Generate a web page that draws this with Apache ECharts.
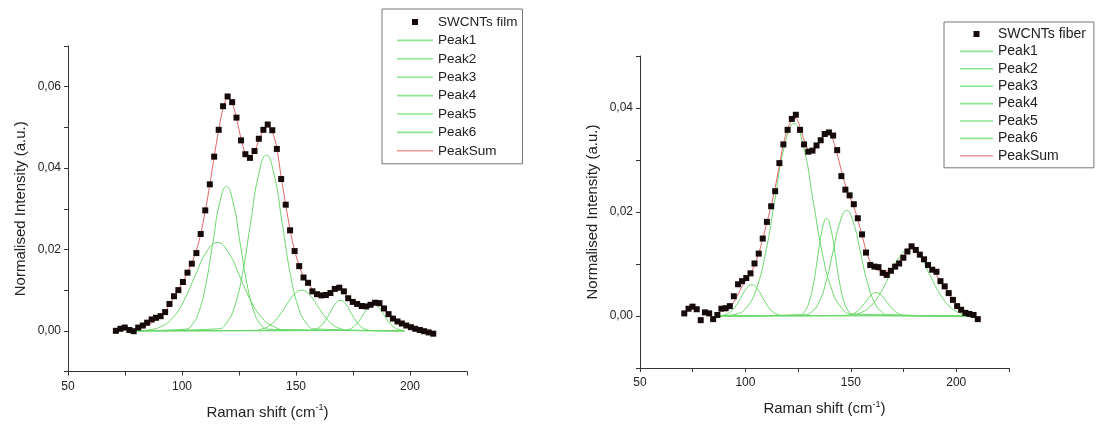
<!DOCTYPE html>
<html><head><meta charset="utf-8">
<script src="https://cdn.jsdelivr.net/npm/echarts@6/dist/echarts.min.js"></script>
<style>html,body{margin:0;padding:0;background:#fff}#c{width:1106px;height:425px}</style>
</head><body><div id="c"></div><script>
// ---- shared Raman shift grid (cm^-1) ----
const shift = [71.0, 73.0, 74.9, 76.9, 78.8, 80.8, 82.8, 84.7, 86.7, 88.6, 90.6, 92.6, 94.5, 96.5, 98.4, 100.4, 102.4, 104.3, 106.3, 108.2, 110.2, 112.2, 114.1, 116.1, 118.0, 120.0, 122.0, 123.9, 125.9, 127.8, 129.8, 131.8, 133.7, 135.7, 137.6, 139.6, 141.6, 143.5, 145.5, 147.4, 149.4, 151.4, 153.3, 155.3, 157.2, 159.2, 161.2, 163.1, 165.1, 167.0, 169.0, 171.0, 172.9, 174.9, 176.8, 178.8, 180.8, 182.7, 184.7, 186.6, 188.6, 190.6, 192.5, 194.5, 196.4, 198.4, 200.4, 202.3, 204.3, 206.2, 208.2, 210.2];

// ---- SWCNTs film ----
const filmData = [0.0000, 0.0005, 0.0008, 0.0002, -0.0001, 0.0008, 0.0013, 0.0020, 0.0028, 0.0032,
 0.0036, 0.0046, 0.0066, 0.0085, 0.0100, 0.0120, 0.0143, 0.0165, 0.0191, 0.0238,
 0.0296, 0.0360, 0.0428, 0.0494, 0.0552, 0.0576, 0.0562, 0.0524, 0.0468, 0.0434,
 0.0425, 0.0442, 0.0472, 0.0494, 0.0507, 0.0493, 0.0447, 0.0373, 0.0310, 0.0247,
 0.0196, 0.0159, 0.0131, 0.0118, 0.0097, 0.0090, 0.0087, 0.0088, 0.0093, 0.0103,
 0.0106, 0.0097, 0.0080, 0.0071, 0.0066, 0.0061, 0.0060, 0.0064, 0.0069, 0.0068,
 0.0055, 0.0041, 0.0030, 0.0023, 0.0018, 0.0013, 0.0009, 0.0005, 0.0002, -0.0001,
 -0.0004, -0.0007];
const filmSum = [null, null, null, null, null, 0.0004, 0.0008, 0.0013, 0.0019, 0.0027,
 0.0036, 0.0048, 0.0064, 0.0082, 0.0101, 0.0121, 0.0143, 0.0167, 0.0197, 0.0238,
 0.0294, 0.0360, 0.0428, 0.0494, 0.0547, 0.0572, 0.0560, 0.0522, 0.0472, 0.0436,
 0.0426, 0.0440, 0.0468, 0.0492, 0.0502, 0.0490, 0.0448, 0.0378, 0.0310, 0.0248,
 0.0197, 0.0160, 0.0133, 0.0116, 0.0102, 0.0092, 0.0088, 0.0089, 0.0094, 0.0101,
 0.0103, 0.0096, 0.0083, 0.0072, 0.0066, 0.0062, 0.0062, 0.0065, 0.0067, 0.0064,
 0.0054, 0.0041, 0.0029, 0.0019, 0.0012, null, null, null, null, null,
 null, null];
const filmPeak1 = [[80,0],[85.5,0.00024],[90.5,0.00095],[95.5,0.00294],[100.5,0.00705],[105.5,0.01316],[110.5,0.01915],[115.5,0.0217],[120.5,0.01915],[125.5,0.01316],[130.5,0.00705],[135.5,0.00294],[140.5,0.00095],[145.5,0.00024],[197.5,0]];
const filmPeak2 = [[80,0],[101.5,0.00039],[104.5,0.00156],[107.5,0.0048],[110.5,0.01153],[113.5,0.02153],[116.5,0.03133],[119.5,0.0355],[122.5,0.03133],[125.5,0.02153],[128.5,0.01153],[131.5,0.0048],[134.5,0.00156],[137.5,0.00039],[197.5,0]];
const filmPeak3 = [[80,0],[116,0.00048],[119.5,0.0019],[123,0.00585],[126.5,0.01403],[130,0.0262],[133.5,0.03812],[137,0.0432],[140.5,0.03812],[144,0.0262],[147.5,0.01403],[151,0.00585],[154.5,0.0019],[158,0.00048],[197.5,0]];
const filmPeak4 = [[80,0],[131.5,0.00011],[135,0.00044],[138.5,0.00135],[142,0.00325],[145.5,0.00607],[149,0.00883],[152.5,0.0100],[156,0.00883],[159.5,0.00607],[163,0.00325],[166.5,0.00135],[170,0.00044],[173.5,0.00011],[197.5,0]];
const filmPeak5 = [[80,0],[156,0.00008],[158.25,0.00033],[160.5,0.00101],[162.75,0.00244],[165,0.00455],[167.25,0.00662],[169.5,0.0075],[171.75,0.00662],[174,0.00455],[176.25,0.00244],[178.5,0.00101],[180.75,0.00033],[183,0.00008],[197.5,0]];
const filmPeak6 = [[80,0],[170.5,0.00007],[172.75,0.00029],[175,0.00089],[177.25,0.00214],[179.5,0.004],[181.75,0.00582],[184,0.0066],[186.25,0.00582],[188.5,0.004],[190.75,0.00214],[193,0.00089],[195.25,0.00029],[197.5,0.00007]];

// ---- SWCNTs fiber ----
const fiberData = [0.0005, 0.0014, 0.0018, 0.0013, -0.0008, 0.0007, 0.0005, -0.0006, 0.0002, 0.0014,
 0.0015, 0.0019, 0.0038, 0.0061, 0.0067, 0.0073, 0.0082, 0.0101, 0.0120, 0.0149,
 0.0181, 0.0211, 0.0240, 0.0294, 0.0330, 0.0358, 0.0379, 0.0387, 0.0358, 0.0330,
 0.0316, 0.0318, 0.0328, 0.0338, 0.0350, 0.0353, 0.0347, 0.0319, 0.0269, 0.0243,
 0.0232, 0.0215, 0.0188, 0.0157, 0.0122, 0.0098, 0.0095, 0.0094, 0.0083, 0.0079,
 0.0087, 0.0095, 0.0101, 0.0112, 0.0124, 0.0134, 0.0127, 0.0118, 0.0109, 0.0098,
 0.0089, 0.0085, 0.0067, 0.0057, 0.0044, 0.0031, 0.0019, 0.0012, 0.0006, 0.0004,
 0.0002, -0.0006];
const fiberSum = [null, null, null, null, null, null, null, null, null, null,
 0.0008, 0.0015, 0.0027, 0.0042, 0.0057, 0.0070, 0.0082, 0.0098, 0.0120, 0.0148,
 0.0180, 0.0212, 0.0247, 0.0290, 0.0330, 0.0360, 0.0377, 0.0380, 0.0363, 0.0338,
 0.0320, 0.0316, 0.0325, 0.0338, 0.0349, 0.0350, 0.0338, 0.0312, 0.0280, 0.0252,
 0.0230, 0.0210, 0.0185, 0.0155, 0.0126, 0.0104, 0.0093, 0.0088, 0.0085, 0.0086,
 0.0090, 0.0097, 0.0106, 0.0116, 0.0125, 0.0130, 0.0127, 0.0119, 0.0109, 0.0099,
 0.0089, 0.0079, 0.0067, 0.0055, 0.0043, 0.0032, 0.0022, 0.0015, 0.0009, 0.0005,
 null, null];
const fiberPeak1 = [[88,0.00007],[90.5,0.00026],[93,0.00081],[95.5,0.00195],[98,0.00364],[100.5,0.0053],[103,0.006],[105.5,0.0053],[108,0.00364],[110.5,0.00195],[113,0.00081],[115.5,0.00026],[118,0.00007],[206.5,0]];
const fiberPeak2 = [[88,0],[96,0.00041],[100.5,0.00162],[105,0.00501],[109.5,0.01201],[114,0.02244],[118.5,0.03265],[123,0.037],[127.5,0.03265],[132,0.02244],[136.5,0.01201],[141,0.00501],[145.5,0.00162],[150,0.00041],[206.5,0]];
const fiberPeak3 = [[88,0],[125.9,0.00021],[128,0.00083],[130.1,0.00254],[132.2,0.0061],[134.3,0.0114],[136.4,0.01659],[138.5,0.0188],[140.6,0.01659],[142.7,0.0114],[144.8,0.0061],[146.9,0.00254],[149,0.00083],[151.1,0.00021],[206.5,0]];
const fiberPeak4 = [[88,0],[128.5,0.00023],[131.75,0.00089],[135,0.00275],[138.25,0.00659],[141.5,0.01231],[144.75,0.01791],[148,0.0203],[151.25,0.01791],[154.5,0.01231],[157.75,0.00659],[161,0.00275],[164.25,0.00089],[167.5,0.00023],[206.5,0]];
const fiberPeak5 = [[88,0],[147,0.00005],[149.5,0.0002],[152,0.00061],[154.5,0.00146],[157,0.00273],[159.5,0.00397],[162,0.0045],[164.5,0.00397],[167,0.00273],[169.5,0.00146],[172,0.00061],[174.5,0.0002],[177,0.00005],[206.5,0]];
const fiberPeak6 = [[88,0],[149.5,0.00014],[154.25,0.00057],[159,0.00176],[163.75,0.00422],[168.5,0.00788],[173.25,0.01147],[178,0.013],[182.75,0.01147],[187.5,0.00788],[192.25,0.00422],[197,0.00176],[201.75,0.00057],[206.5,0.00014]];

// ---- ticks / labels ----
const xTickValues = [50, 100, 150, 200];
const xTickLabels = ['50', '100', '150', '200'];
const filmYTickValues = [0, 0.02, 0.04, 0.06];
const fiberYTickValues = [0, 0.02, 0.04];
const yTickLabels = ['0,00', '0,02', '0,04', '0,06'];
const peakNames = ['Peak1', 'Peak2', 'Peak3', 'Peak4', 'Peak5', 'Peak6'];

const FONT = '"Liberation Sans", Arial, sans-serif';
const GREEN = '#6bd86b';
const RED = '#e26464';
const MARK = '#170a0a';

function pair(xs, ys) { return xs.map((x, i) => [x, ys[i]]); }

function xLabel(v) {
  const i = xTickValues.findIndex(t => Math.abs(t - v) < 1e-6);
  return i >= 0 ? xTickLabels[i] : '';
}
function yLabelFor(vals) {
  return function (v) {
    const i = vals.findIndex(t => Math.abs(t - v) < 1e-6);
    return i >= 0 ? yTickLabels[i] : '';
  };
}

function makeX(gi) {
  return {
    gridIndex: gi, type: 'value', min: 50, max: 225, interval: 25,
    axisLine: { show: true, onZero: false, lineStyle: { color: '#333', width: 1 } },
    axisTick: { show: true, length: 4, lineStyle: { color: '#333' } },
    axisLabel: { formatter: xLabel, color: '#222', fontSize: 12, fontFamily: FONT, margin: 9 },
    splitLine: { show: false },
    name: 'Raman shift (cm{sup|-1})', nameLocation: 'middle', nameGap: 32,
    nameTextStyle: { color: '#222', fontSize: 15, fontFamily: FONT,
      rich: { sup: { fontSize: 9, fontFamily: FONT, color: '#222', padding: [0, 0, 9, 0] } } }
  };
}
function makeY(gi, max, vals) {
  return {
    gridIndex: gi, type: 'value', min: -0.01, max: max, interval: 0.01,
    axisLine: { show: true, onZero: false, lineStyle: { color: '#333', width: 1 } },
    axisTick: { show: true, length: 4, lineStyle: { color: '#333' } },
    axisLabel: { formatter: yLabelFor(vals), color: '#222', fontSize: 12, fontFamily: FONT, margin: 7 },
    splitLine: { show: false },
    name: 'Normalised Intensity (a.u.)', nameLocation: 'middle', nameGap: 40,
    nameTextStyle: { color: '#222', fontSize: 15, fontFamily: FONT }
  };
}

function makeSeries(gi, peaks, sum, data, dataName) {
  const s = [];
  peaks.forEach((p, k) => s.push({
    name: peakNames[k], type: 'line', xAxisIndex: gi, yAxisIndex: gi, data: p,
    smooth: 0.5, symbol: 'none', showSymbol: false, silent: true,
    lineStyle: { color: GREEN, width: 1 }, itemStyle: { color: GREEN }, z: 2
  }));
  s.push({
    name: 'PeakSum', type: 'line', xAxisIndex: gi, yAxisIndex: gi, data: pair(shift, sum),
    smooth: 0.3, symbol: 'none', showSymbol: false, silent: true, connectNulls: false,
    lineStyle: { color: RED, width: 1 }, itemStyle: { color: RED }, z: 3
  });
  s.push({
    name: dataName, type: 'scatter', xAxisIndex: gi, yAxisIndex: gi, data: pair(shift, data),
    symbol: 'rect', symbolSize: 6, itemStyle: { color: MARK, opacity: 1 }, z: 5, silent: true
  });
  return s;
}

function makeLegend(left, top, itemWidth, gap, padding, fontSize, dataName) {
  const lineIcon = 'path://M0,0M' + itemWidth + ',14M0,6.2h' + itemWidth + 'v1.6h-' + itemWidth + 'z';
  const squareIcon = 'path://M0,0M' + itemWidth + ',14M' + (itemWidth / 2 - 3) + ',4h6v6h-6z';
  return {
    orient: 'vertical', left: left, top: top, itemWidth: itemWidth, itemHeight: 14, itemGap: gap,
    padding: padding, backgroundColor: '#fff', borderColor: '#777', borderWidth: 1,
    selectedMode: false,
    textStyle: { color: '#222', fontSize: fontSize, fontFamily: FONT },
    data: [{ name: dataName, icon: squareIcon }]
      .concat(peakNames.map(n => ({ name: n, icon: lineIcon, itemStyle: { color: '#8fe48f' } })))
      .concat([{ name: 'PeakSum', icon: lineIcon, itemStyle: { color: '#ec9a9a' } }])
  };
}

const option = {
  animation: false,
  backgroundColor: '#fff',
  grid: [
    { left: 68, top: 46, width: 399, height: 327 },
    { left: 640, top: 56, width: 369, height: 312 }
  ],
  xAxis: [makeX(0), makeX(1)],
  yAxis: [makeY(0, 0.07, filmYTickValues), makeY(1, 0.05, fiberYTickValues)],
  legend: [
    makeLegend(382, 9, 36, 4.4, [6, 5, 6, 15], 13.5, 'SWCNTs film'),
    makeLegend(944, 22, 33, 3.4, [5, 8, 5, 16], 14, 'SWCNTs fiber')
  ],
  series: makeSeries(0, [filmPeak1, filmPeak2, filmPeak3, filmPeak4, filmPeak5, filmPeak6], filmSum, filmData, 'SWCNTs film')
    .concat(makeSeries(1, [fiberPeak1, fiberPeak2, fiberPeak3, fiberPeak4, fiberPeak5, fiberPeak6], fiberSum, fiberData, 'SWCNTs fiber'))
};

const chart = echarts.init(document.getElementById('c'), null, { renderer: 'canvas' });
chart.setOption(option);
</script></body></html>
